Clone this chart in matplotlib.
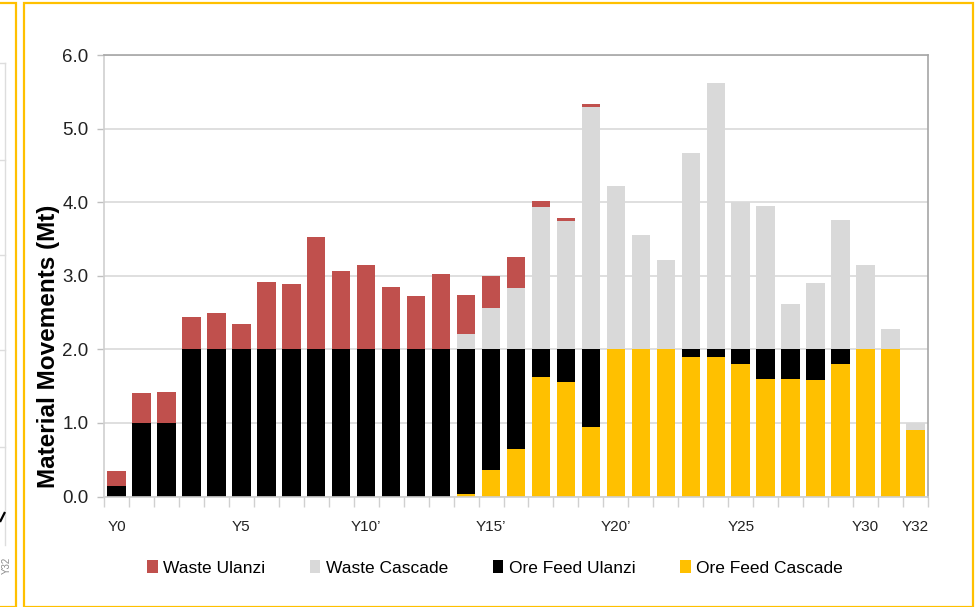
import matplotlib
matplotlib.use("Agg")
import matplotlib.pyplot as plt
import numpy as np
from matplotlib.patches import Rectangle, Patch
from matplotlib.lines import Line2D

# Annual material movements (Mt), Y0..Y32
years = [f"Y{i}" for i in range(33)]
ore_feed_cascade = [0, 0, 0, 0, 0, 0, 0, 0, 0, 0, 0, 0, 0, 0,
                    0.04, 0.36, 0.65, 1.62, 1.55, 0.95, 2.0, 2.0, 2.0,
                    1.90, 1.90, 1.80, 1.60, 1.60, 1.59, 1.80, 2.0, 2.0, 0.91]
ore_feed_ulanzi = [0.14, 1.0, 1.0, 2.0, 2.0, 2.0, 2.0, 2.0, 2.0, 2.0, 2.0, 2.0, 2.0, 2.0,
                   1.96, 1.64, 1.35, 0.38, 0.45, 1.05, 0, 0, 0,
                   0.10, 0.10, 0.20, 0.40, 0.40, 0.41, 0.20, 0, 0, 0]
waste_cascade = [0, 0, 0, 0, 0, 0, 0, 0, 0, 0, 0, 0, 0, 0,
                 0.21, 0.56, 0.84, 1.93, 1.75, 3.30, 2.22, 1.55, 1.21,
                 2.67, 3.62, 2.00, 1.95, 0.61, 0.90, 1.76, 1.15, 0.28, 0.09]
waste_ulanzi = [0.21, 0.41, 0.42, 0.44, 0.49, 0.34, 0.91, 0.89, 1.52, 1.06, 1.14, 0.85, 0.72, 1.02,
                0.53, 0.44, 0.42, 0.09, 0.03, 0.04, 0, 0, 0,
                0, 0, 0, 0, 0, 0, 0, 0, 0, 0]

tick_idx = [0, 5, 10, 15, 20, 25, 30, 32]
tick_text = ["Y0", "Y5", "Y10\u2019", "Y15\u2019", "Y20\u2019", "Y25", "Y30", "Y32"]

series = [
    ("Ore Feed Cascade", ore_feed_cascade, "#FFC000"),
    ("Ore Feed Ulanzi", ore_feed_ulanzi, "#000000"),
    ("Waste Cascade", waste_cascade, "#D9D9D9"),
    ("Waste Ulanzi", waste_ulanzi, "#C0504D"),
]

plt.rcParams["font.family"] = ["Liberation Sans", "DejaVu Sans"]

W, H = 978, 607
fig = plt.figure(figsize=(W / 100, H / 100), dpi=100)
ax = fig.add_axes([104 / W, 1 - 496.5 / H, 824 / W, 441.5 / H])

x = np.arange(len(years))
bottom = np.zeros(len(years))
for name, vals, col in series:
    vals = np.array(vals, dtype=float)
    ax.bar(x, vals, width=0.74, bottom=bottom, color=col, edgecolor="none",
           zorder=3, label=name)
    bottom += vals

ax.set_xlim(-0.5, len(years) - 0.5)
ax.set_ylim(0, 6)
ax.set_yticks(np.arange(0, 6.1, 1.0))
ax.set_yticklabels([f"{v:.1f}" for v in np.arange(0, 6.1, 1.0)], fontsize=13.5, color="#222222")
ax.yaxis.grid(True, color="#D9D9D9", linewidth=1.2, zorder=0)
ax.tick_params(axis="y", length=5, width=1, color="#BFBFBF", pad=6)

ax.set_xticks(tick_idx)
ax.set_xticklabels(tick_text, fontsize=11, color="#222222")
ax.tick_params(axis="x", which="major", length=0, pad=17)
ax.set_xticks(np.arange(-0.5, len(years), 1.0), minor=True)
ax.tick_params(axis="x", which="minor", length=7, width=1, color="#D0D0D0")

for side in ["left", "bottom"]:
    ax.spines[side].set_color("#D0D0D0")
for side in ["top", "right"]:
    ax.spines[side].set_color("#A6A6A6")
for sp in ax.spines.values():
    sp.set_linewidth(1.2)
    sp.set_zorder(4)

ax.set_ylabel("Material Movements (Mt)", fontsize=17.5, fontweight="bold")
ax.yaxis.set_label_coords(-0.054, 0.341)

# Legend in the order shown under the chart
handles = [Patch(facecolor=c, edgecolor="none", label=n)
           for n, _, c in [series[3], series[2], series[1], series[0]]]
fig.legend(handles=handles, loc="center", bbox_to_anchor=(495 / W, 1 - 568 / H),
           ncol=4, frameon=False, fontsize=12.5, handlelength=0.6, handleheight=0.8,
           handletextpad=0.3, columnspacing=2.6)

# Slide panel frames
fig.patches.append(Rectangle((24.5 / W, 0), (973 - 24.5) / W, 1 - 3 / H,
                             transform=fig.transFigure, fill=False,
                             edgecolor="#FFC000", linewidth=1.6))
fig.patches.append(Rectangle((-10 / W, 0), (16.5 + 10) / W, 1 - 3 / H,
                             transform=fig.transFigure, fill=False,
                             edgecolor="#FFC000", linewidth=1.6))

# Edge of the neighbouring chart
for yy in [63, 160, 255, 350, 447]:
    fig.add_artist(Line2D([0, 4.5 / W], [1 - yy / H, 1 - yy / H],
                          transform=fig.transFigure, color="#DDDDDD", linewidth=1))
fig.add_artist(Line2D([4.5 / W, 4.5 / W], [1 - 63 / H, 1 - 545 / H],
                      transform=fig.transFigure, color="#DDDDDD", linewidth=1))
fig.add_artist(Line2D([0.5 / W, 4.5 / W], [1 - 521 / H, 1 - 513 / H],
                      transform=fig.transFigure, color="#000000", linewidth=1.6))
fig.text(7 / W, 1 - 565 / H, "Y32", rotation=90, fontsize=7, color="#8C8C8C",
         ha="center", va="center")

fig.savefig("out.png", dpi=100)
